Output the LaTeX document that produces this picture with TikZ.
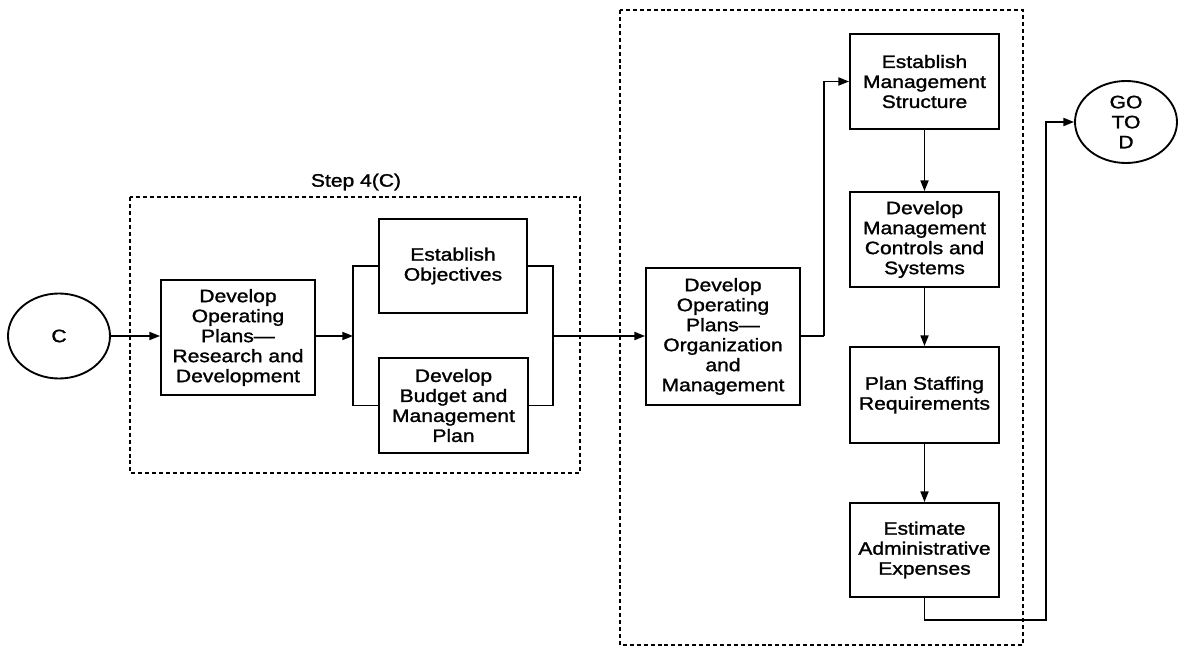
\documentclass[tikz,border=0pt]{standalone}
\usepackage{fontspec}
\setmainfont[FakeStretch=1.17,FakeBold=1.4]{Liberation Sans}
\usetikzlibrary{arrows.meta,shapes.geometric}
\begin{document}
\begin{tikzpicture}[x=0.75pt,y=-0.75pt,
  every node/.style={font=\fontsize{13.5pt}{15pt}\selectfont},
  stepbox/.style={draw, line width=1.4pt, align=center, inner sep=0pt},
  terminal/.style={draw, ellipse, line width=1.4pt, align=center, inner sep=0pt},
  arr/.style={line width=1.3pt, -{Triangle[length=8pt,width=6pt]}},
  wire/.style={line width=1.3pt},
  frame/.style={line width=1.4pt, dash pattern=on 3pt off 2.2pt}]
\useasboundingbox (0,0) rectangle (1182,648);

% dashed groupings
\draw[frame] (130,197) rectangle (580,473);
\draw[frame] (620,10) rectangle (1023,645);
\node (steplabel) at (356,182) {Step 4(C)};

% entry and exit terminals
\node[terminal, minimum width=76.5pt, minimum height=63.75pt] (C) at (59,336) {C};
\node[terminal, minimum width=76.5pt, minimum height=61.5pt] (god) at (1126,122) {GO\\TO\\D};

% step boxes
\node[stepbox, minimum width=115.5pt, minimum height=86.25pt] (rd) at (238,337.5)
  {Develop\\Operating\\Plans---\\Research and\\Development};
\node[stepbox, minimum width=111pt, minimum height=70.5pt] (obj) at (453,266)
  {Establish\\Objectives};
\node[stepbox, minimum width=111.75pt, minimum height=71.25pt] (bud) at (453.5,405.5)
  {Develop\\Budget and\\Management\\Plan};
\node[stepbox, minimum width=115.5pt, minimum height=102.75pt] (org) at (723,336.5)
  {Develop\\Operating\\Plans---\\Organization\\and\\Management};
\node[stepbox, minimum width=111.75pt, minimum height=71.25pt] (ems) at (924.5,81.5)
  {Establish\\Management\\Structure};
\node[stepbox, minimum width=111.75pt, minimum height=71.25pt] (ctl) at (924.5,239.5)
  {Develop\\Management\\Controls and\\Systems};
\node[stepbox, minimum width=111.75pt, minimum height=72pt] (stf) at (924.5,395)
  {Plan Staffing\\Requirements};
\node[stepbox, minimum width=111.75pt, minimum height=70.5pt] (exp) at (924.5,550)
  {Estimate\\Administrative\\Expenses};

% junction points
\coordinate (bl) at (353,336);
\coordinate (br) at (553,336);
\coordinate (jt) at (824,336);
\coordinate (lp) at (1046,620);

% connectors
\draw[arr] (C.east) -- (C.east -| rd.west);
\draw[arr] (rd.east |- bl) -- (bl);
\draw[wire] (obj.west) -| (bl) |- (bud.west);
\draw[wire] (obj.east) -| (br) |- (bud.east);
\draw[arr] (br) -- (br -| org.west);
\draw[wire] (org.east |- jt) -- (jt);
\draw[arr] (jt) |- (ems.west);
\draw[arr] (ems) -- (ctl);
\draw[arr] (ctl) -- (stf);
\draw[arr] (stf) -- (exp);
\draw[arr] (exp.south) |- (lp) |- (god.west);
\end{tikzpicture}
\end{document}
